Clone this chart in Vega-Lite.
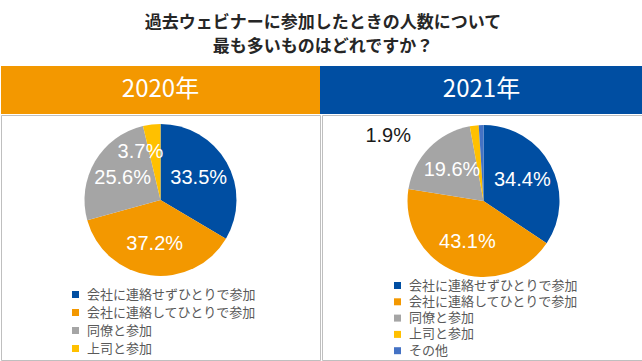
{
  "$schema": "https://vega.github.io/schema/vega-lite/v6.json",
  "padding": {"top": 14, "left": 0, "right": 0, "bottom": 0},
  "background": "white",
  "title": {
    "text": ["過去ウェビナーに参加したときの人数について", "最も多いものはどれですか？"],
    "font": "Noto Sans CJK JP",
    "fontSize": 17,
    "fontWeight": "bold",
    "lineHeight": 24,
    "color": "#262626",
    "anchor": "middle",
    "offset": 10
  },
  "datasets": {
    "y2020": [
      {"cat": "会社に連絡せずひとりで参加", "pct": 33.5, "label": "33.5%", "rank": 1},
      {"cat": "会社に連絡してひとりで参加", "pct": 37.2, "label": "37.2%", "rank": 2},
      {"cat": "同僚と参加", "pct": 25.6, "label": "25.6%", "rank": 3},
      {"cat": "上司と参加", "pct": 3.7, "label": "3.7%", "rank": 4}
    ],
    "y2021": [
      {"cat": "会社に連絡せずひとりで参加", "pct": 34.4, "label": "34.4%", "rank": 1},
      {"cat": "会社に連絡してひとりで参加", "pct": 43.1, "label": "43.1%", "rank": 2},
      {"cat": "同僚と参加", "pct": 19.6, "label": "19.6%", "rank": 3},
      {"cat": "上司と参加", "pct": 1.9, "label": "1.9%", "rank": 4},
      {"cat": "その他", "pct": 1.0, "label": "1.0%", "rank": 5}
    ]
  },
  "config": {"view": {"stroke": null}},
  "spacing": 0,
  "vconcat": [
    {
      "spacing": 0,
      "hconcat": [
        {
          "width": 319, "height": 48,
          "view": {"fill": "#F39800", "stroke": null},
          "data": {"values": [{"year": "2020年"}]},
          "mark": {"type": "text", "color": "white", "fontSize": 24, "font": "Noto Sans CJK JP"},
          "encoding": {"text": {"field": "year", "type": "nominal"}}
        },
        {
          "width": 323, "height": 48,
          "view": {"fill": "#004EA2", "stroke": null},
          "data": {"values": [{"year": "2021年"}]},
          "mark": {"type": "text", "color": "white", "fontSize": 24, "font": "Noto Sans CJK JP"},
          "encoding": {"text": {"field": "year", "type": "nominal"}}
        }
      ]
    },
    {
      "spacing": 0,
      "resolve": {"scale": {"color": "independent", "theta": "independent"}, "legend": {"color": "independent"}},
      "hconcat": [
        {
          "width": 319, "height": 245,
          "view": {"stroke": "#BFBFBF", "strokeWidth": 1},
          "data": {"name": "y2020"},
          "encoding": {
            "theta": {"field": "pct", "type": "quantitative", "stack": true},
            "order": {"field": "rank", "type": "quantitative"}
          },
          "layer": [
            {
              "mark": {"type": "arc", "outerRadius": 76, "y": 85},
              "encoding": {
                "color": {
                  "field": "cat", "type": "nominal",
                  "scale": {
                    "domain": ["会社に連絡せずひとりで参加", "会社に連絡してひとりで参加", "同僚と参加", "上司と参加"],
                    "range": ["#004EA2", "#F39800", "#A5A5A5", "#FFC000"]
                  },
                  "legend": {
                    "orient": "none", "legendX": 68, "legendY": 173, "title": null,
                    "symbolType": "square", "symbolSize": 49, "symbolStrokeWidth": 0,
                    "labelFont": "Noto Sans CJK JP", "labelFontSize": 13, "labelColor": "#595959",
                    "labelOffset": 5, "labelLimit": 200, "rowPadding": 4, "padding": 0
                  }
                }
              }
            },
            {
              "mark": {"type": "text", "radius": 44, "y": 85, "color": "white", "fontSize": 20, "font": "Liberation Sans"},
              "encoding": {"text": {"field": "label", "type": "nominal", "condition": {"test": "datum.rank == 4", "value": ""}}}
            },
            {
              "mark": {"type": "text", "radius": 44, "y": 85, "dx": -15, "dy": -4, "color": "white", "fontSize": 20, "font": "Liberation Sans"},
              "encoding": {"text": {"field": "label", "type": "nominal", "condition": {"test": "datum.rank != 4", "value": ""}}}
            }
          ]
        },
        {
          "width": 323, "height": 245,
          "view": {"stroke": "#BFBFBF", "strokeWidth": 1},
          "data": {"name": "y2021"},
          "encoding": {
            "theta": {"field": "pct", "type": "quantitative", "stack": true},
            "order": {"field": "rank", "type": "quantitative"}
          },
          "layer": [
            {
              "mark": {"type": "arc", "outerRadius": 76, "y": 86},
              "encoding": {
                "color": {
                  "field": "cat", "type": "nominal",
                  "scale": {
                    "domain": ["会社に連絡せずひとりで参加", "会社に連絡してひとりで参加", "同僚と参加", "上司と参加", "その他"],
                    "range": ["#004EA2", "#F39800", "#A5A5A5", "#FFC000", "#4472C4"]
                  },
                  "legend": {
                    "orient": "none", "legendX": 69, "legendY": 164, "title": null,
                    "symbolType": "square", "symbolSize": 49, "symbolStrokeWidth": 0,
                    "labelFont": "Noto Sans CJK JP", "labelFontSize": 13, "labelColor": "#595959",
                    "labelOffset": 5, "labelLimit": 200, "rowPadding": 2.3, "padding": 0
                  }
                }
              }
            },
            {
              "mark": {"type": "text", "radius": 44, "y": 86, "color": "white", "fontSize": 20, "font": "Liberation Sans"},
              "encoding": {"text": {"field": "label", "type": "nominal", "condition": {"test": "datum.rank >= 4", "value": ""}}}
            },
            {
              "mark": {"type": "text", "radius": 76, "y": 86, "dx": -86, "dy": 10, "color": "#1a1a1a", "fontSize": 20, "font": "Liberation Sans"},
              "encoding": {"text": {"field": "label", "type": "nominal", "condition": {"test": "datum.rank != 4", "value": ""}}}
            }
          ]
        }
      ]
    }
  ]
}
